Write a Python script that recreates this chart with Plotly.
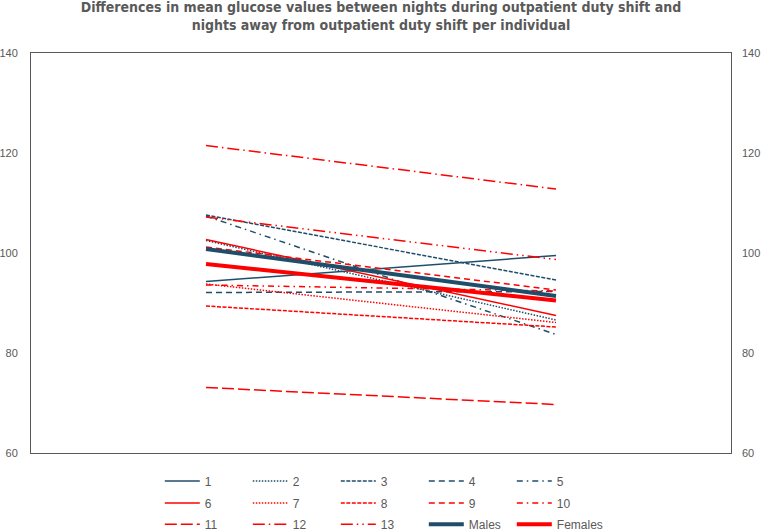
import plotly.graph_objects as go

# ---- data ----
categories = ["Nights during outpatient duty shift", "Nights away from outpatient duty shift"]
series_names = ["1", "2", "3", "4", "5", "6", "7", "8", "9", "10", "11", "12", "13", "Males", "Females"]
s1 = [94.3, 99.5]
s2 = [102.5, 86.6]
s3 = [107.6, 94.6]
s4 = [92.1, 92.3]
s5 = [107.4, 83.7]
s6 = [102.7, 87.5]
s7 = [93.8, 86.1]
s8 = [89.4, 85.2]
s9 = [101.2, 92.6]
s10 = [93.6, 92.4]
s11 = [73.1, 69.7]
s12 = [121.5, 112.8]
s13 = [107.2, 98.7]
males = [100.8, 91.4]
females = [97.8, 90.5]
y_ticks = [60, 80, 100, 120, 140]

values = [s1, s2, s3, s4, s5, s6, s7, s8, s9, s10, s11, s12, s13, males, females]

DARK = "#1F4E6B"
RED = "#FF0000"
GREY = "#595959"

DOT = "1.5px,1.5px"
SQDOT = "4px,1.5px"
DASH = "6px,4px"
DASHDOT = "6px,4px,1.5px,4px"
LONGDASH = "12px,4px"
LONGDASHDOT = "12px,4px,1.5px,4px"
LONGDASHDOTDOT = "12px,4px,1.5px,4px,1.5px,4px"

styles = [
    (DARK, "solid", 1.5, "legend"),
    (DARK, DOT, 1.5, "legend"),
    (DARK, SQDOT, 1.5, "legend"),
    (DARK, DASH, 1.5, "legend"),
    (DARK, DASHDOT, 1.5, "legend"),
    (RED, "solid", 1.5, "legend2"),
    (RED, DOT, 1.5, "legend2"),
    (RED, SQDOT, 1.5, "legend2"),
    (RED, DASH, 1.5, "legend2"),
    (RED, DASHDOT, 1.5, "legend2"),
    (RED, LONGDASH, 1.5, "legend3"),
    (RED, LONGDASHDOT, 1.5, "legend3"),
    (RED, LONGDASHDOTDOT, 1.5, "legend3"),
    (DARK, "solid", 4, "legend3"),
    (RED, "solid", 4, "legend4"),
]

fig = go.Figure()
for name, vals, (color, dash, width, leg) in zip(series_names, values, styles):
    fig.add_trace(go.Scatter(
        x=categories, y=vals, mode="lines", name=name,
        line=dict(color=color, dash=dash, width=width),
        legend=leg, hoverinfo="name+y",
    ))

# invisible trace to carry the right-hand axis
fig.add_trace(go.Scatter(x=categories, y=males, yaxis="y2", mode="lines",
                         line=dict(width=0), opacity=0, showlegend=False,
                         hoverinfo="skip"))

tickfont = dict(family="Liberation Sans, Arial, sans-serif", size=11, color=GREY)
legfont = dict(family="Liberation Sans, Arial, sans-serif", size=12, color=GREY)

LEG_X = 0.184
PITCH = 88 / 700

def legend_cfg(y, x=LEG_X, entrywidth=38):
    return dict(orientation="h", x=x, xanchor="left", y=y, yanchor="middle",
                font=legfont, entrywidth=entrywidth, entrywidthmode="pixels",
                bgcolor="rgba(0,0,0,0)", tracegroupgap=0, itemwidth=35)

fig.update_layout(
    width=762, height=531,
    margin=dict(l=31, r=31, t=53, b=78, autoexpand=False),
    paper_bgcolor="white", plot_bgcolor="white",
    title=dict(
        text="<b>Differences in mean glucose values between nights during outpatient duty shift and<br>nights away from outpatient duty shift per individual</b>",
        font=dict(family="Liberation Sans Narrow, DejaVu Sans Condensed, sans-serif", size=14, color=GREY),
        x=0.5, xanchor="center", xref="paper", y=1 - 12 / 531, yanchor="top", yref="container",
    ),
    xaxis=dict(type="category", range=[-0.5, 1.5], showticklabels=False, ticks="",
               showgrid=False, zeroline=False, showline=True, mirror=True,
               linecolor=GREY, linewidth=1),
    yaxis=dict(range=[60, 140], tickvals=y_ticks, showgrid=False, zeroline=False,
               showline=True, mirror=True, linecolor=GREY, linewidth=1, ticks="",
               tickfont=tickfont, ticklabelstandoff=10),
    yaxis2=dict(range=[60, 140], tickvals=y_ticks, overlaying="y", side="right",
                showgrid=False, zeroline=False, showline=False, ticks="",
                tickfont=tickfont, ticklabelstandoff=10),
    legend=legend_cfg(-0.07),
    legend2=legend_cfg(-0.125),
    legend3=legend_cfg(-0.178),
    legend4=legend_cfg(-0.178, x=LEG_X + 4 * PITCH, entrywidth=0),
    showlegend=True,
)

fig.write_html("out.html")
